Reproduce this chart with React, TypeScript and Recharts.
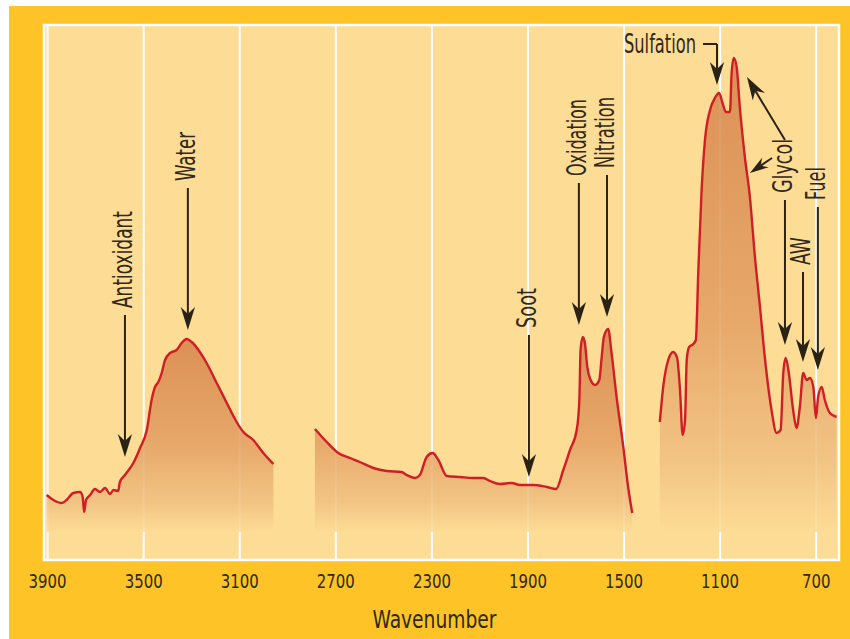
import {
    ComposedChart,
    Area,
    XAxis,
    YAxis,
    CartesianGrid,
    ReferenceLine,
    ReferenceArea,
} from "recharts";

// IR spectrum of used oil, absorbance in arbitrary units
const wn1 = [3904, 3876, 3841, 3821, 3793, 3765, 3754, 3748, 3740, 3723, 3703, 3682, 3661, 3640, 3626, 3606, 3599, 3578, 3543, 3515, 3487, 3467, 3453, 3439, 3425, 3411, 3390, 3363, 3342, 3321, 3300, 3266, 3238, 3196, 3154, 3113, 3085, 3044, 3002, 2960];
const abs1 = [65, 60, 57, 60, 67, 68, 63, 48, 60, 65, 71, 68, 72, 66, 70, 69, 78, 85, 97, 112, 130, 160, 173, 178, 187, 200, 207, 210, 217, 221, 218, 208, 197, 177, 157, 138, 128, 120, 107, 96];

const wn2 = [2787, 2738, 2690, 2641, 2600, 2544, 2488, 2426, 2405, 2370, 2350, 2322, 2297, 2273, 2238, 2183, 2128, 2086, 2058, 2017, 1968, 1933, 1878, 1822, 1783, 1753, 1725, 1697, 1686, 1681, 1672, 1663, 1653, 1639, 1621, 1603, 1593, 1584, 1566, 1552, 1531, 1503, 1483, 1466];
const abs2 = [131, 118, 107, 102, 98, 92, 89, 88, 85, 82, 85, 103, 107, 100, 84, 83, 82, 82, 79, 76, 77, 75, 75, 73, 71, 90, 110, 130, 160, 210, 223, 217, 193, 180, 175, 180, 203, 223, 231, 207, 163, 113, 73, 47];

const wn3 = [1351, 1337, 1316, 1295, 1279, 1267, 1256, 1246, 1239, 1229, 1212, 1201, 1191, 1177, 1163, 1142, 1122, 1104, 1090, 1076, 1059, 1052, 1043, 1031, 1018, 997, 976, 955, 934, 914, 886, 865, 848, 837, 827, 814, 796, 782, 768, 754, 740, 726, 712, 701, 692, 677, 664, 643, 615];
const abs3 = [138, 173, 200, 208, 202, 170, 125, 140, 200, 213, 216, 220, 287, 370, 420, 450, 462, 467, 457, 448, 448, 487, 502, 493, 453, 403, 363, 303, 253, 203, 150, 127, 130, 187, 202, 187, 150, 132, 153, 187, 180, 182, 173, 142, 163, 173, 160, 147, 143];

const xTicks = [3900, 3500, 3100, 2700, 2300, 1900, 1500, 1100, 700];

// vertical pointers: label, wavenumber, top of the arrow, tip of the arrow
const pointerNames = ["Antioxidant", "Water", "Soot", "Oxidation", "Nitration", "Glycol", "AW", "Fuel"];
const pointerWn = [3578, 3316, 1896, 1688, 1571, 830, 755, 693];
const pointerTop = [245, 372, 225, 377, 385, 360, 288, 353];
const pointerTip = [103, 230, 83, 235, 243, 215, 198, 190];

// sulfation pointer with a hook, and the two extra glycol arrows
const sulfation = { wn: 1113, top: 516, tip: 475 };
const glycolFrom = [[830, 420], [884, 402]];
const glycolTo = [[988, 483], [976, 387]];

const rows = [
    ...wn1.map((wn, i) => ({ wn, s1: abs1[i] })),
    ...wn2.map((wn, i) => ({ wn, s2: abs2[i] })),
    ...wn3.map((wn, i) => ({ wn, s3: abs3[i] })),
];

const INK = "#2a2313";
const TEXT = "#30291a";
const RED = "#d01e27";
const FONT = "'Liberation Sans Narrow', 'DejaVu Sans Condensed', 'Liberation Sans', Arial, sans-serif";

const labelFit: Record<string, number> = {
    Antioxidant: 97,
    Water: 49,
    Soot: 40,
    Oxidation: 77,
    Nitration: 71,
    Glycol: 54,
    AW: 28,
    Fuel: 33,
    Sulfation: 72,
};

function Pointer(props: any) {
    const { x1, y1, x2, y2, text, hook } = props;
    if (![x1, y1, x2, y2].every((v) => Number.isFinite(v))) return null;
    const dx = x2 - x1;
    const dy = y2 - y1;
    const len = Math.hypot(dx, dy) || 1;
    const ux = dx / len;
    const uy = dy / len;
    const head = Math.min(23, len * 0.7);
    const half = head * 0.31;
    const notch = head * 0.3;
    const bx = x2 - ux * head;
    const by = y2 - uy * head;
    const nx = x2 - ux * (head - notch);
    const ny = y2 - uy * (head - notch);
    const px = -uy;
    const py = ux;
    const pts = `${x2},${y2} ${bx + px * half},${by + py * half} ${nx},${ny} ${bx - px * half},${by - py * half}`;
    const textStyle = {
        fontFamily: FONT,
        fontSize: 26,
        fill: TEXT,
    };

    return (
        <g>
            {hook ? (
                <line x1={x1 - hook} y1={y1} x2={x1} y2={y1} stroke={INK} strokeWidth={2} />
            ) : null}
            <line x1={x1} y1={y1} x2={nx} y2={ny} stroke={INK} strokeWidth={2} />
            <polygon points={pts} fill={INK} />
            {text && !hook ? (
                <text
                    transform={`translate(${x1 + 7},${y1 - 7}) rotate(-90)`}
                    textAnchor="start"
                    textLength={labelFit[text]}
                    lengthAdjust="spacingAndGlyphs"
                    style={textStyle}
                >
                    {text}
                </text>
            ) : null}
            {text && hook ? (
                <text
                    x={x1 - hook - 7}
                    y={y1 + 9}
                    textAnchor="end"
                    textLength={labelFit[text]}
                    lengthAdjust="spacingAndGlyphs"
                    style={textStyle}
                >
                    {text}
                </text>
            ) : null}
        </g>
    );
}

const WaveTick = ({ x, y, payload }: any) => (
    <text
        x={x}
        y={y}
        dy={28}
        textAnchor="middle"
        textLength={String(payload.value).length * 9.5}
        lengthAdjust="spacingAndGlyphs"
        style={{ fontFamily: FONT, fontSize: 19, fill: TEXT }}
    >
        {payload.value}
    </text>
);

const WaveLabel = (props: any) => {
    const vb = props.viewBox || { x: 35, y: 554, width: 795, height: 70 };
    return (
        <text
            x={vb.x + vb.width / 2 - 7}
            y={vb.y + 68}
            textAnchor="middle"
            textLength={124}
            lengthAdjust="spacingAndGlyphs"
            style={{ fontFamily: FONT, fontSize: 25, fill: TEXT }}
        >
            Wavenumber
        </text>
    );
};

export default function App() {
    return (
        <div style={{ position: "absolute", left: 0, top: 0, width: 850, height: 639, background: "#ffffff" }}>
            <div style={{ position: "absolute", left: 9, top: 6, width: 841, height: 633, background: "#fec427" }}>
                <ComposedChart
                    width={841}
                    height={633}
                    data={rows}
                    margin={{ top: 19, right: 11, bottom: 9, left: 35 }}
                >
                    <defs>
                        <linearGradient id="peakFill" x1="0" y1="0" x2="0" y2="1">
                            <stop offset="0%" stopColor="#d6834b" />
                            <stop offset="55%" stopColor="#e39f62" />
                            <stop offset="85%" stopColor="#f0c081" />
                            <stop offset="100%" stopColor="#fddc95" />
                        </linearGradient>
                    </defs>

                    <CartesianGrid
                        horizontal={false}
                        stroke="#ffffff"
                        strokeWidth={2}
                        fill="#fddc95"
                        fillOpacity={1}
                    />

                    <XAxis
                        dataKey="wn"
                        type="number"
                        domain={[605, 3915]}
                        reversed
                        ticks={xTicks}
                        interval={0}
                        tickLine={false}
                        axisLine={false}
                        tickSize={0}
                        tickMargin={0}
                        height={70}
                        tick={<WaveTick />}
                        label={{ content: WaveLabel }}
                    />

                    <YAxis hide type="number" domain={[0, 535]} width={0} />

                    {["s1", "s2", "s3"].map((key) => (
                        <Area
                            key={key}
                            dataKey={key}
                            type="monotone"
                            baseValue={28}
                            stroke={RED}
                            strokeWidth={2.4}
                            fill="url(#peakFill)"
                            fillOpacity={0.85}
                            connectNulls={false}
                            dot={false}
                            activeDot={false}
                            isAnimationActive={false}
                        />
                    ))}

                    <ReferenceArea
                        x1={3915}
                        x2={605}
                        y1={0}
                        y2={535}
                        fill="none"
                        stroke="#ffffff"
                        strokeWidth={2.5}
                        ifOverflow="visible"
                    />

                    {pointerNames.map((name, i) => (
                        <ReferenceLine
                            key={name}
                            segment={[
                                { x: pointerWn[i], y: pointerTop[i] },
                                { x: pointerWn[i], y: pointerTip[i] },
                            ]}
                            stroke={INK}
                            shape={(p: any) => <Pointer {...p} text={name} />}
                        />
                    ))}

                    <ReferenceLine
                        segment={[
                            { x: sulfation.wn, y: sulfation.top },
                            { x: sulfation.wn, y: sulfation.tip },
                        ]}
                        stroke={INK}
                        shape={(p: any) => <Pointer {...p} text="Sulfation" hook={14} />}
                    />

                    {glycolFrom.map((from, i) => (
                        <ReferenceLine
                            key={`glycol-${i}`}
                            segment={[
                                { x: from[0], y: from[1] },
                                { x: glycolTo[i][0], y: glycolTo[i][1] },
                            ]}
                            stroke={INK}
                            shape={(p: any) => <Pointer {...p} />}
                        />
                    ))}
                </ComposedChart>
            </div>
        </div>
    );
}
